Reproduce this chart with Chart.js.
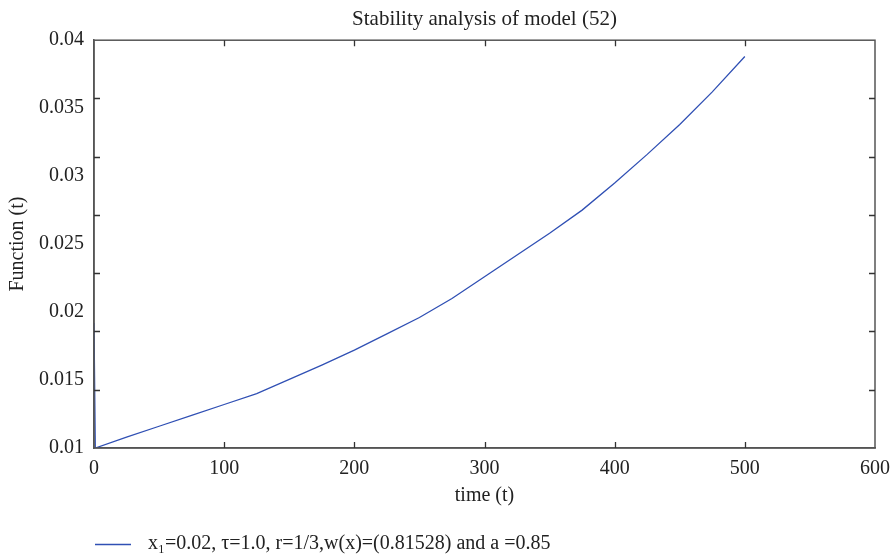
<!DOCTYPE html>
<html>
<head>
<meta charset="utf-8">
<script src="https://cdn.jsdelivr.net/npm/chart.js@4.4.1/dist/chart.umd.min.js"></script>
<style>
html,body{margin:0;padding:0;background:#fff;}
#wrap{width:892px;height:560px;position:relative;}
</style>
</head>
<body>
<div id="wrap"><canvas id="c" width="892" height="560"></canvas></div>
<script>
const chartTitle = "Stability analysis of model (52)";
const xTitle = "time (t)";
const yTitle = "Function (t)";
const seriesLabel = "x\u2081=0.02, \u03c4=1.0, r=1/3,w(x)=(0.81528) and a =0.85";
const timeValues = [0, 1, 25, 50, 75, 100, 125, 150, 175, 200, 225, 250, 275, 300, 325, 350, 375, 400, 425, 450, 475, 500];
const functionValues = [0.0192, 0.0100, 0.0108, 0.0116, 0.0124, 0.0132, 0.0140, 0.01505, 0.0161, 0.0172, 0.0184, 0.0196, 0.0210, 0.0226, 0.0242, 0.0258, 0.0275, 0.0295, 0.0316, 0.0338, 0.0362, 0.0388];
const xTicks = [0, 100, 200, 300, 400, 500, 600];
const yTicks = [0.01, 0.015, 0.02, 0.025, 0.03, 0.035, 0.04];

const FONT = "'Liberation Serif', 'DejaVu Serif', serif";
const LINE_COLOR = '#3050b4';
const AXIS_COLOR = '#555555';

const points = timeValues.map((t, i) => ({x: t, y: functionValues[i]}));

const framePlugin = {
  id: 'frame',
  afterDraw(chart) {
    const {ctx, chartArea: a, scales} = chart;
    const xs = scales.x, ys = scales.y;
    ctx.save();
    ctx.strokeStyle = AXIS_COLOR;
    ctx.lineWidth = 1.5;
    ctx.strokeRect(a.left, a.top, a.right - a.left, a.bottom - a.top);
    ctx.lineWidth = 1.3;
    ctx.strokeStyle = '#333';
    const tl = 6;
    ctx.beginPath();
    xTicks.slice(1, -1).forEach(v => {
      const px = Math.round(xs.getPixelForValue(v)) + 0.5;
      ctx.moveTo(px, a.bottom); ctx.lineTo(px, a.bottom - tl);
      ctx.moveTo(px, a.top); ctx.lineTo(px, a.top + tl);
    });
    const n = 7;
    for (let i = 1; i < n; i++) {
      const v = ys.min + (ys.max - ys.min) * i / n;
      const py = Math.round(ys.getPixelForValue(v)) + 0.5;
      ctx.moveTo(a.left, py); ctx.lineTo(a.left + tl, py);
      ctx.moveTo(a.right, py); ctx.lineTo(a.right - tl, py);
    }
    ctx.stroke();
    // legend
    const ds = chart.data.datasets[0];
    const ly = 544;
    ctx.strokeStyle = ds.borderColor;
    ctx.lineWidth = 1.3;
    ctx.beginPath();
    ctx.moveTo(95, ly + 0.5); ctx.lineTo(131, ly + 0.5);
    ctx.stroke();
    ctx.fillStyle = '#222';
    ctx.font = "20px " + FONT;
    ctx.textBaseline = 'middle';
    ctx.textAlign = 'left';
    ctx.fillText(ds.label, 148, ly);
    ctx.restore();
  }
};

new Chart(document.getElementById('c'), {
  type: 'scatter',
  data: {
    datasets: [{
      label: seriesLabel,
      data: points,
      showLine: true,
      borderColor: LINE_COLOR,
      backgroundColor: LINE_COLOR,
      borderWidth: 1.3,
      pointRadius: 0,
      tension: 0
    }]
  },
  options: {
    responsive: false,
    animation: false,
    layout: {padding: {left: 0, right: 17, top: 0, bottom: 52}},
    plugins: {
      legend: {display: false},
      tooltip: {enabled: false},
      title: {
        display: true,
        text: chartTitle,
        fullSize: false,
        color: '#222',
        font: {family: FONT, size: 21, weight: 'normal'},
        padding: {top: 7, bottom: 8}
      }
    },
    scales: {
      x: {
        type: 'linear',
        min: 0, max: 600,
        afterBuildTicks(s) { s.ticks = xTicks.map(v => ({value: v})); },
        afterFit(s) { s.height = 60; s.paddingLeft = 0; s.paddingRight = 0; },
        grid: {display: false, drawTicks: false},
        border: {display: true, color: AXIS_COLOR, width: 1.5},
        ticks: {color: '#222', padding: 9, maxRotation: 0, font: {family: FONT, size: 20}},
        title: {display: true, text: xTitle, color: '#222', padding: {top: 3, bottom: 0}, font: {family: FONT, size: 20}}
      },
      y: {
        type: 'linear',
        min: 0.01, max: 0.04,
        afterBuildTicks(s) { s.ticks = yTicks.map(v => ({value: v})); },
        afterFit(s) { s.width = 94; s.paddingTop = 0; s.paddingBottom = 0; },
        grid: {display: false, drawTicks: false},
        border: {display: true, color: AXIS_COLOR, width: 1.5},
        ticks: {color: '#222', padding: 10, font: {family: FONT, size: 20},
          callback: v => String(+v.toFixed(3))},
        title: {display: true, text: yTitle, color: '#222', padding: {top: 6, bottom: 6}, font: {family: FONT, size: 20}}
      }
    }
  },
  plugins: [framePlugin]
});
</script>
</body>
</html>
